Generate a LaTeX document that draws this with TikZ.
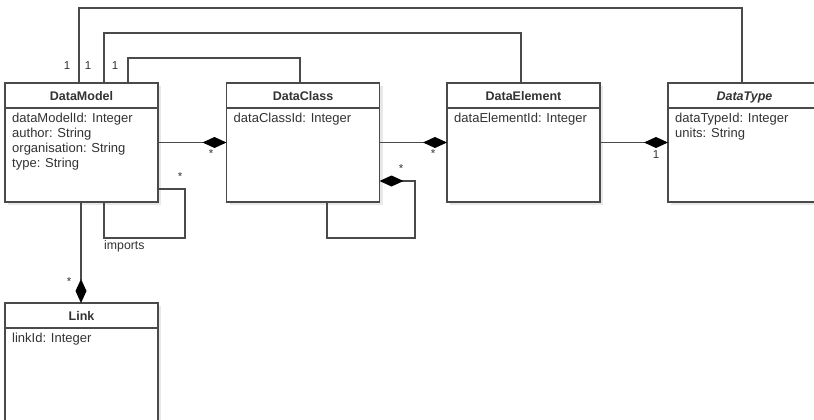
\documentclass[tikz,border=0pt]{standalone}
\usepackage{fontspec}
\setmainfont{Liberation Sans}
\usetikzlibrary{arrows.meta,shadows}
\definecolor{linec}{HTML}{4A4A4A}
\definecolor{textc}{HTML}{333333}
\tikzset{
  cls/.style={draw=linec, line width=1.4pt, fill=white, minimum width=153pt,
    minimum height=119pt, inner sep=0pt, outer sep=0pt,
    drop shadow={shadow xshift=3pt, shadow yshift=-3pt, fill=black!9, opacity=1}},
  sepline/.style={draw=linec, line width=1.2pt},
  ttl/.style={font=\fontsize{12.5}{15}\selectfont\bfseries, text=textc, inner sep=0pt, anchor=base},
  attr/.style={font=\fontsize{13}{15}\selectfont, text=textc, inner sep=0pt, anchor=base west},
  conn/.style={draw=linec, line width=1.2pt},
  comp/.style={conn, -{Diamond[length=24pt,width=11pt,fill=black,line width=0pt]}},
  mult/.style={font=\fontsize{11.5}{12}\selectfont, text=textc, inner sep=0pt},
}
\begin{document}
\begin{tikzpicture}[x=1pt,y=-1pt]
\useasboundingbox (0,0) rectangle (814,420);

% class boxes
\node[cls] (dm) at (81.5,142.5) {};
\node[cls] (dc) at (303,142.5) {};
\node[cls] (de) at (523.5,142.5) {};
\node[cls] (dt) at (744.5,142.5) {};
\node[cls, minimum height=147pt] (lk) at (81.5,376.5) {};

% header separators
\foreach \n in {dm,dc,de,dt,lk}
  \draw[sepline] ([yshift=-25pt]\n.north west) -- ([yshift=-25pt]\n.north east);

% titles
\node[ttl] (dmt) at ([yshift=-17pt]dm.north) {DataModel};
\node[ttl] (dct) at ([yshift=-17pt]dc.north) {DataClass};
\node[ttl] (det) at ([yshift=-17pt]de.north) {DataElement};
\node[ttl] (dtt) at ([yshift=-17pt]dt.north) {\itshape DataType};
\node[ttl] (lkt) at ([yshift=-17pt]lk.north) {Link};

% attributes
\node[attr] (dma1) at ([xshift=7pt,yshift=-39pt]dm.north west) {dataModelId: Integer};
\node[attr] (dma2) at ([xshift=7pt,yshift=-54.3pt]dm.north west) {author: String};
\node[attr] (dma3) at ([xshift=7pt,yshift=-69.6pt]dm.north west) {organisation: String};
\node[attr] (dma4) at ([xshift=7pt,yshift=-84.9pt]dm.north west) {type: String};
\node[attr] (dca1) at ([xshift=7pt,yshift=-39pt]dc.north west) {dataClassId: Integer};
\node[attr] (dea1) at ([xshift=7pt,yshift=-39pt]de.north west) {dataElementId: Integer};
\node[attr] (dta1) at ([xshift=7pt,yshift=-39pt]dt.north west) {dataTypeId: Integer};
\node[attr] (dta2) at ([xshift=7pt,yshift=-54.3pt]dt.north west) {units: String};
\node[attr] (lka1) at ([xshift=7pt,yshift=-39pt]lk.north west) {linkId: Integer};

% top associations
\draw[conn] ([xshift=-2.5pt]dm.north) -- ++(0,-75) -| ([xshift=-2.5pt]dt.north);
\draw[conn] ([xshift=22.5pt]dm.north) -- ++(0,-50) -| ([xshift=-2.5pt]de.north);
\draw[conn] ([xshift=46.5pt]dm.north) -- ++(0,-25) -| ([xshift=-3pt]dc.north);
\node[mult] (m1) at (67,66) {1};
\node[mult] (m2) at (88,66) {1};
\node[mult] (m3) at (115,66) {1};

% compositions
\draw[comp] (dm.east) -- (dc.west);
\node[mult] (m4) at (211,154) {*};
\draw[comp] (dc.east) -- (de.west);
\node[mult] (m5) at (433,154) {*};
\draw[comp] (de.east) -- (dt.west);
\node[mult] (m6) at (656,155) {1};
\draw[comp] ([xshift=-0.5pt]dm.south) -- ([xshift=-0.5pt]lk.north);
\node[mult] (m7) at (69,282) {*};

% self loops
\draw[conn] ([yshift=-46.5pt]dm.east) -- ++(27,0) -- ++(0,49) -| ([xshift=22.5pt]dm.south);
\node[mult] (m8) at (180,177) {*};
\node[attr, font=\fontsize{12.3}{13}\selectfont] (imp) at (104,249) {imports};
\draw[comp] ([xshift=24pt]dc.south) -- ++(0,36) -- ++(88,0) -- ++(0,-57) -- ([yshift=-38.5pt]dc.east);
\node[mult] (m9) at (401,169) {*};
\end{tikzpicture}
\end{document}
